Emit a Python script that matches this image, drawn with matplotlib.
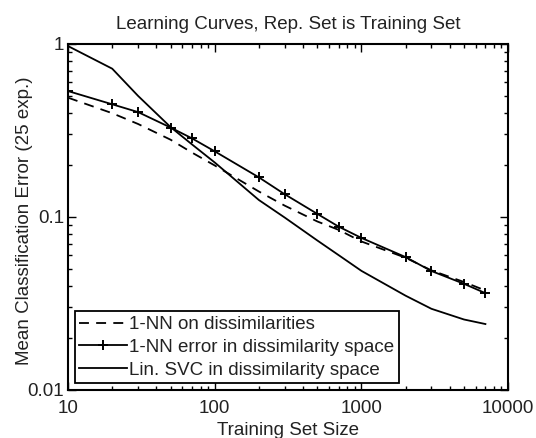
import matplotlib
matplotlib.use("Agg")
import matplotlib.pyplot as plt
from matplotlib.ticker import FixedLocator, FixedFormatter, LogLocator, NullFormatter

plt.rcParams['font.family'] = ['Liberation Sans', 'DejaVu Sans']

train_sizes = [10, 20, 30, 50, 70, 100, 200, 300, 500, 700, 1000, 2000, 3000, 5000, 7000]
nn_dissim = [0.488, 0.397, 0.344, 0.279, 0.235, 0.198, 0.140, 0.116, 0.094, 0.084,
             0.072, 0.058, 0.049, 0.042, 0.0375]
nn_space = [0.533, 0.447, 0.403, 0.328, 0.284, 0.239, 0.169, 0.135, 0.104, 0.0877,
            0.0755, 0.0585, 0.0486, 0.041, 0.0362]
svc_space = [0.97, 0.718, 0.50, 0.33, 0.262, 0.206, 0.125, 0.099, 0.073, 0.060,
             0.0487, 0.035, 0.0294, 0.0255, 0.0240]

labels = ["1-NN on dissimilarities",
          "1-NN error in dissimilarity space",
          "Lin. SVC in dissimilarity space"]
xticks = [10, 100, 1000, 10000]
xticklabels = ["10", "100", "1000", "10000"]
yticks = [0.01, 0.1, 1]
yticklabels = ["0.01", "0.1", "1"]

text_color = '#222222'
fs = 13.5

fig = plt.figure(figsize=(5.36, 4.38), dpi=100)
ax = fig.add_axes([0.127, 0.11, 0.821, 0.79])

ax.plot(train_sizes, nn_dissim, color='black', linestyle=(0, (5.5, 4)), linewidth=1.3, label=labels[0])
ax.plot(train_sizes, nn_space, color='black', linestyle='-', linewidth=1.3, marker='+',
        markersize=7, markeredgewidth=1.4, label=labels[1])
ax.plot(train_sizes, svc_space, color='black', linestyle='-', linewidth=1.3, label=labels[2])

ax.set_xscale('log')
ax.set_yscale('log')
ax.set_xlim(10, 10000)
ax.set_ylim(0.01, 1)

ax.xaxis.set_major_locator(FixedLocator(xticks))
ax.xaxis.set_major_formatter(FixedFormatter(xticklabels))
ax.yaxis.set_major_locator(FixedLocator(yticks))
ax.yaxis.set_major_formatter(FixedFormatter(yticklabels))
ax.xaxis.set_minor_locator(LogLocator(base=10, subs=range(2, 10)))
ax.yaxis.set_minor_locator(LogLocator(base=10, subs=range(2, 10)))
ax.xaxis.set_minor_formatter(NullFormatter())
ax.yaxis.set_minor_formatter(NullFormatter())

ax.tick_params(which='both', direction='in', top=True, right=True, labelsize=fs,
               width=1.0, color='black', labelcolor=text_color)
ax.tick_params(which='major', length=6)
ax.tick_params(axis='x', which='major', pad=7)
ax.tick_params(axis='y', which='major', pad=3)
ax.tick_params(which='minor', length=3)
for s in ax.spines.values():
    s.set_linewidth(1.5)
    s.set_color('black')

ax.set_title("Learning Curves, Rep. Set is Training Set", fontsize=fs, pad=11, color=text_color)
ax.set_xlabel("Training Set Size", fontsize=fs, labelpad=4, color=text_color)
ylab = ax.set_ylabel("Mean Classification Error (25 exp.)", fontsize=fs, color=text_color)
ylab.set_verticalalignment('center')
ax.yaxis.set_label_coords(-0.100, 0.49)

leg = ax.legend(loc='lower left', fontsize=fs, frameon=True, fancybox=False,
                edgecolor='black', handlelength=2.55, handletextpad=0.1,
                borderpad=0.25, labelspacing=0.3, borderaxespad=0.35)
leg.get_frame().set_linewidth(1.3)
leg.get_frame().set_alpha(1)
for t in leg.get_texts():
    t.set_color(text_color)

fig.savefig("out.png", dpi=100)
